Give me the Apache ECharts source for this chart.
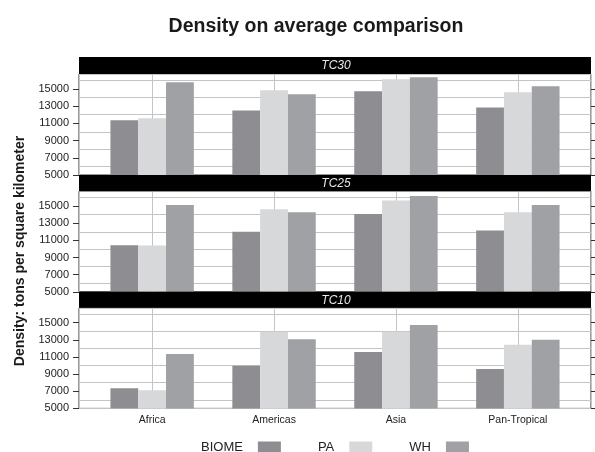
<!DOCTYPE html>
<html>
<head>
<meta charset="utf-8">
<script src="https://cdn.jsdelivr.net/npm/echarts@6/dist/echarts.min.js"></script>
<style>html,body{margin:0;padding:0;background:#fff}#c{width:595px;height:452px}</style>
</head>
<body>
<div id="c"></div>
<script>
// ---- data ----
const categories = ['Africa', 'Americas', 'Asia', 'Pan-Tropical'];
const panels = ['TC30', 'TC25', 'TC10'];
const seriesNames = ['BIOME', 'PA', 'WH'];
const biome_TC30 = [11350, 12500, 14730, 12850];
const pa_TC30    = [11580, 14850, 16130, 14610];
const wh_TC30    = [15780, 14380, 16360, 15310];
const biome_TC25 = [10420, 12000, 14070, 12150];
const pa_TC25    = [10400, 14620, 15660, 14270];
const wh_TC25    = [15120, 14270, 16160, 15120];
const biome_TC10 = [7350, 9970, 11580, 9590];
const pa_TC10    = [7120, 13950, 13950, 12420];
const wh_TC10    = [11350, 13070, 14730, 13000];
const yTickLabels = [5000, 7000, 9000, 11000, 13000, 15000];

// ---- layout / style ----
const panelData = [
  [biome_TC30, pa_TC30, wh_TC30],
  [biome_TC25, pa_TC25, wh_TC25],
  [biome_TC10, pa_TC10, wh_TC10]
];
const colors = ['#8e8e92', '#d7d8da', '#a0a1a5'];
const L = 79, W = 512;
const gridTops = [74, 191.2, 307.8];
const gridH = [101, 100.6, 100.6];
const stripTops = [57, 175, 291.8];
const stripH = [17, 16.2, 16];
const Y_MIN = 5000, Y_MAX = 16730;
const FONT = 'Liberation Sans, Arial, sans-serif';

const grids = [], xAxes = [], yAxes = [], series = [], graphics = [];
panels.forEach((p, i) => {
  grids.push({left: L, top: gridTops[i], width: W, height: gridH[i], show: true,
    borderColor: '#333', borderWidth: 1, backgroundColor: 'transparent', containLabel: false});
  const isBottom = i === panels.length - 1;
  xAxes.push({
    gridIndex: i, type: 'value', min: 0.4, max: 4.6, minInterval: 1, maxInterval: 1,
    axisLine: {show: false}, axisTick: {show: false},
    splitLine: {show: true, lineStyle: {color: '#c4c4c4', width: 1}},
    axisLabel: {show: isBottom, color: '#222', fontFamily: FONT, fontSize: 10.5, margin: 6,
      showMinLabel: false, showMaxLabel: false,
      formatter: v => (Math.abs(v - Math.round(v)) < 1e-6 && categories[Math.round(v) - 1]) || ''}
  });
  // gridline axis (bars attach to this)
  yAxes.push({gridIndex: i, type: 'value', min: Y_MIN, max: Y_MAX, minInterval: 2000, maxInterval: 2000,
    axisLine: {show: false}, axisTick: {show: false}, axisLabel: {show: false},
    splitLine: {show: true, lineStyle: {color: '#c4c4c4', width: 1}}});
  // left labels + ticks
  yAxes.push({gridIndex: i, type: 'value', position: 'left', min: Y_MIN, max: Y_MAX,
    axisLine: {show: false}, splitLine: {show: false},
    axisTick: {show: true, length: 6, customValues: yTickLabels, lineStyle: {color: '#333'}},
    axisLabel: {show: true, customValues: yTickLabels, formatter: v => String(v),
      color: '#222', fontFamily: FONT, fontSize: 11, margin: 10}});
  // right ticks only
  yAxes.push({gridIndex: i, type: 'value', position: 'right', min: Y_MIN, max: Y_MAX,
    axisLine: {show: false}, splitLine: {show: false}, axisLabel: {show: false},
    axisTick: {show: true, length: 6, customValues: yTickLabels, lineStyle: {color: '#333'}}});
  panelData[i].forEach((vals, s) => {
    series.push({
      name: seriesNames[s], type: 'bar', xAxisIndex: i, yAxisIndex: i * 3,
      data: vals.map((v, k) => [k + 1, v]),
      barWidth: 27.8, barGap: '0%', itemStyle: {color: colors[s]}
    });
  });
  graphics.push({type: 'rect', shape: {x: L, y: stripTops[i], width: W, height: stripH[i]},
    style: {fill: '#000'}, z: 10});
  graphics.push({type: 'text', x: L + W / 2 + 1, y: stripTops[i] + stripH[i] / 2 + 0.5, z: 11,
    style: {text: p, fill: '#e8e8e8', font: 'italic 12px ' + FONT, textAlign: 'center', textVerticalAlign: 'middle'}});
});
graphics.push({type: 'text', x: 316, y: 27, style: {text: 'Density on average comparison', fill: '#1a1a1a',
  font: 'bold 19.5px ' + FONT, textAlign: 'center', textVerticalAlign: 'middle'}});
graphics.push({type: 'text', x: 20, y: 251, rotation: Math.PI / 2, style: {text: 'Density: tons per square kilometer',
  fill: '#1a1a1a', font: 'bold 14px ' + FONT, textAlign: 'center', textVerticalAlign: 'middle'}});

const chart = echarts.init(document.getElementById('c'), null, {renderer: 'canvas'});
chart.setOption({
  animation: false,
  backgroundColor: '#fff',
  grid: grids, xAxis: xAxes, yAxis: yAxes, series: series, graphic: graphics,
  legend: {data: seriesNames, left: 201, top: 441, padding: 0, itemGap: 37, align: 'right',
    icon: 'rect', itemWidth: 23, itemHeight: 12, selectedMode: false,
    textStyle: {color: '#222', fontFamily: FONT, fontSize: 13, padding: [0, 10, 0, 0]}}
});
</script>
</body>
</html>
